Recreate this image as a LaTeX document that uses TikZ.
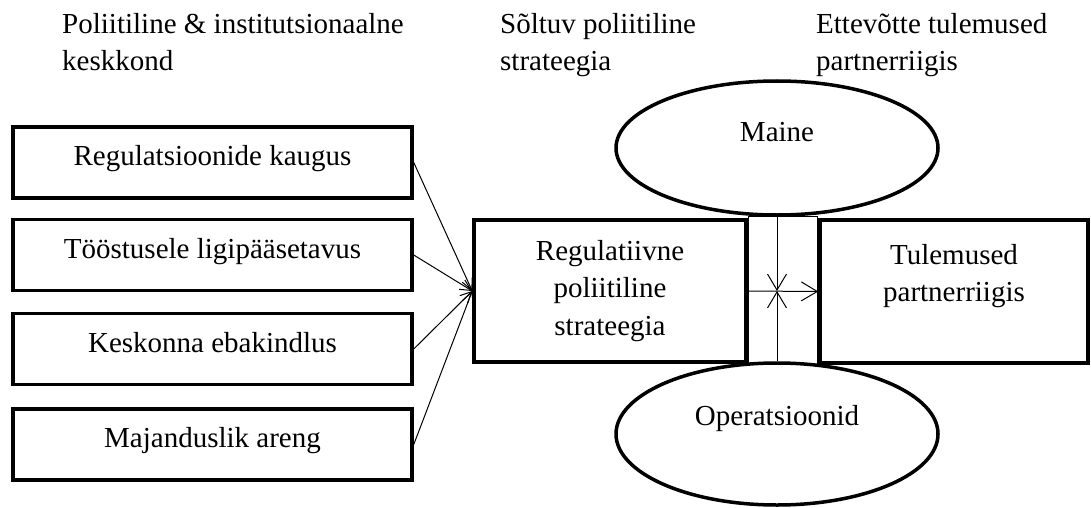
\documentclass[tikz,border=0pt]{standalone}
\usepackage{fontspec}
\setmainfont{Liberation Serif}
\usetikzlibrary{shapes.geometric,arrows.meta}

\begin{document}
\begin{tikzpicture}[x=1pt,y=-1pt,
  every node/.style={font=\fontsize{29}{37.5}\selectfont},
  heading/.style={anchor=north west, inner sep=0pt, align=left},
  factor/.style={draw, line width=3.5pt, minimum width=399pt, minimum height=71pt,
    text height=20pt, text depth=14pt, inner sep=0pt},
  bigbox/.style={draw, line width=3.5pt, inner sep=0pt, align=center},
  oval/.style={draw, fill=white, ellipse, line width=3.5pt, inner sep=0pt,
    minimum width=322pt},
  feed/.style={line width=1pt, -{Straight Barb[length=11pt,width=11pt]}},
  link/.style={line width=1pt, -{Straight Barb[length=16pt,width=19pt]}}
]
\useasboundingbox (0,0) rectangle (1091,508);

% column headings
\node[heading] (hEnv) at (62,13) {Poliitiline \& institutsionaalne\\keskkond};
\node[heading] (hDep) at (500,13) {Sõltuv poliitiline\\strateegia};
\node[heading] (hRes) at (816,13) {Ettevõtte tulemused\\partnerriigis};

% thin frame between strategy and results
\node[draw, line width=1pt, minimum width=69pt, minimum height=150pt, inner sep=0pt]
  (frame) at (782.5,291) {};

% moderators
\node[oval, minimum height=134pt, text height=10pt, text depth=24pt]
  (maine) at (777,148) {Maine};
\node[oval, minimum height=142pt, text height=8pt, text depth=26pt]
  (ops) at (777,434) {Operatsioonid};

% environment factors
\node[factor] (f1) at (212.5,162.5) {Regulatsioonide kaugus};
\node[factor] (f2) at (212.5,255) {Tööstusele ligipääsetavus};
\node[factor] (f3) at (212.5,349) {Keskonna ebakindlus};
\node[factor] (f4) at (212.5,444.5) {Majanduslik areng};

% strategy and outcome
\node[bigbox, minimum width=272pt, minimum height=142pt]
  (strat) at (610,291) {Regulatiivne\\poliitiline\\strateegia};
\node[bigbox, minimum width=268pt, minimum height=143pt]
  (res) at (954,291.5) {Tulemused\\partnerriigis\\};

\coordinate (hub) at (777,291);

% connectors
\foreach \f in {f1,f2,f3,f4}
  \draw[feed] (\f.east) -- (strat.west);
\draw[link] (strat.east) -- (res.west);
\draw[link] (maine.south) -- (hub);
\draw[link] (ops.north) -- (hub);
\end{tikzpicture}
\end{document}
